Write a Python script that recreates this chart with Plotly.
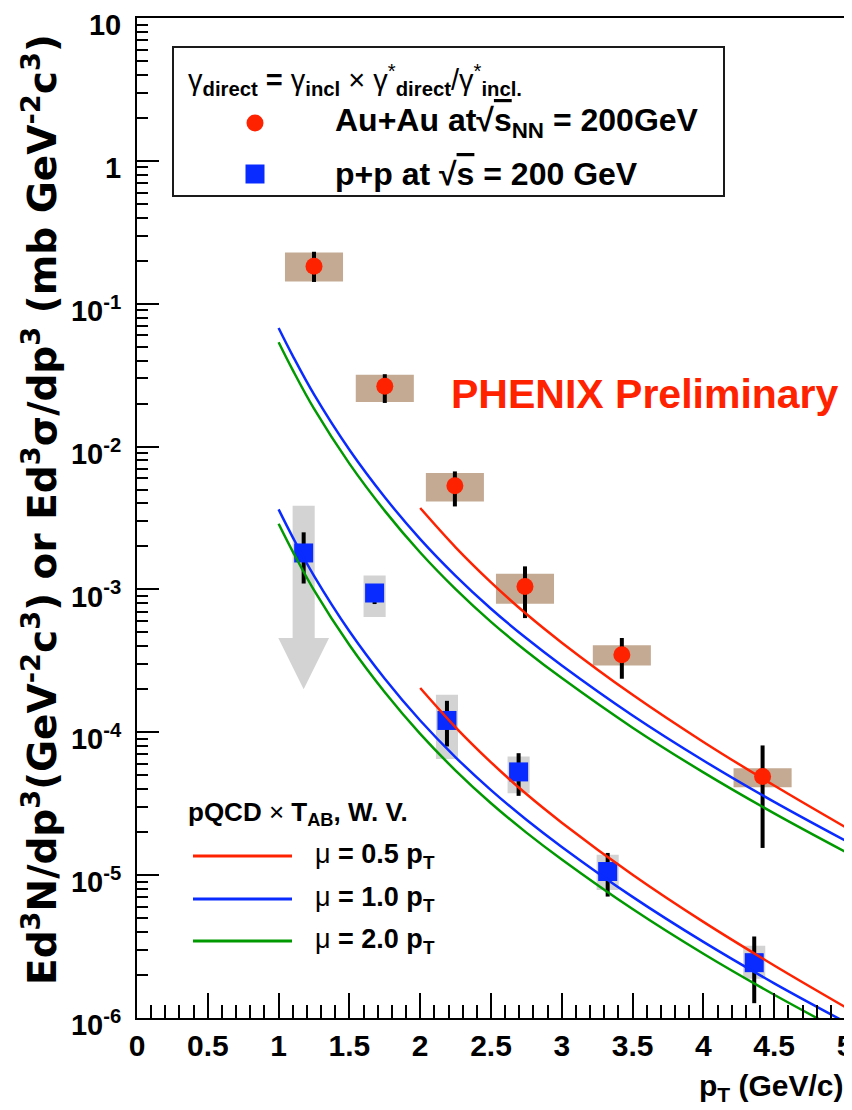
import plotly.graph_objects as go

# ---------------- data ----------------
# Au+Au direct photons (red circles)
auau_pt = [1.25, 1.75, 2.245, 2.74, 3.424, 4.418]
auau_y = [0.183, 0.0264, 0.00532, 0.00105, 0.000349, 4.91e-5]
auau_err_hi = [0.231, 0.0321, 0.0067, 0.00145, 0.000457, 8.09e-5]
auau_err_lo = [0.142, 0.0202, 0.00381, 0.00063, 0.000237, 1.55e-5]
auau_sys_hi = [0.228, 0.0318, 0.00653, 0.00129, 0.000406, 5.61e-5]
auau_sys_lo = [0.143, 0.0205, 0.00413, 0.000794, 0.000294, 4.13e-5]

# p+p direct photons (blue squares); first point carries an upper-limit arrow
pp_pt = [1.177, 1.678, 2.189, 2.695, 3.324, 4.359]
pp_y = [0.0018, 0.000944, 1.21e-4, 5.28e-5, 1.06e-5, 2.44e-6]
pp_err_hi = [0.00251, 0.00105, 1.66e-4, 7.14e-5, 1.43e-5, 3.72e-6]
pp_err_lo = [0.0011, 0.00079, 7.96e-5, 3.59e-5, 7.08e-6, 1.27e-6]
pp_sys_hi = [None, 0.00125, 1.83e-4, 6.78e-5, 1.39e-5, 3.21e-6]
pp_sys_lo = [None, 0.000641, 6.49e-5, 3.75e-5, 7.88e-6, 1.88e-6]
pp_limit_top = 0.00386
pp_limit_head = 0.000457
pp_limit_tip = 0.0002

# pQCD x T_AB curves (Au+Au)
curve_pt = [1.0, 1.1, 1.25, 1.5, 1.75, 2.0, 2.25, 2.5, 2.75, 3.0, 3.5, 4.0, 4.5, 5.0]
auau_mu10 = [0.0676, 0.04315, 0.02317, 0.009495, 0.004416, 0.002251, 0.001245, 0.0007328,
             0.0004545, 0.0002934, 0.0001311, 6.345e-5, 3.255e-5, 1.748e-5]
auau_mu20 = [0.0537, 0.03428, 0.01841, 0.007598, 0.003548, 0.001813, 0.001005, 0.0005929,
             0.0003694, 0.0002395, 0.0001077, 5.242e-5, 2.706e-5, 1.460e-5]
curve_pt_hi = [2.0, 2.25, 2.5, 2.75, 3.0, 3.5, 4.0, 4.5, 5.0]
auau_mu05 = [0.003715, 0.001972, 0.001122, 0.0006722, 0.0004241, 0.000183, 8.56e-5,
             4.24e-5, 2.175e-5]

# pQCD curves (p+p)
pp_mu10 = [3.631e-3, 2.317e-3, 1.245e-3, 5.098e-4, 2.371e-4, 1.209e-4, 6.683e-5, 3.936e-5,
           2.441e-5, 1.576e-5, 7.041e-6, 3.408e-6, 1.748e-6, 9.387e-7]
pp_mu20 = [2.884e-3, 1.841e-3, 9.886e-4, 4.078e-4, 1.905e-4, 9.739e-5, 5.395e-5, 3.184e-5,
           1.984e-5, 1.287e-5, 5.788e-6, 2.815e-6, 1.454e-6, 7.846e-7]
pp_mu05 = [2.042e-4, 1.084e-4, 6.166e-5, 3.694e-5, 2.331e-5, 1.006e-5, 4.705e-6, 2.331e-6,
           1.195e-6]

x_tickvals = [0, 0.5, 1, 1.5, 2, 2.5, 3, 3.5, 4, 4.5, 5]
x_ticktext = ["0", "0.5", "1", "1.5", "2", "2.5", "3", "3.5", "4", "4.5", "5"]
y_tickvals = [1e-6, 1e-5, 1e-4, 1e-3, 1e-2, 1e-1, 1, 10]
y_ticktext = ["10<sup>-6</sup>", "10<sup>-5</sup>", "10<sup>-4</sup>", "10<sup>-3</sup>",
              "10<sup>-2</sup>", "10<sup>-1</sup>", "1", "10"]

# ---------------- style ----------------
FONT = "Liberation Sans"
WIDE_FONT = "DejaVu Sans"
RED = "#ff2200"
BLUE = "#0a2bff"
GREEN = "#009a00"
TAN = "#c4aa93"
GRAY = "#d3d3d3"
AUAU_HW = 0.205
PP_HW = 0.078
ARROW_HEAD_HW = 0.179

# page body has an 8 px margin: screen = figure + 8
OFF = 8
W, H = 852, 1110
ML, MR, MT, MB = 129, 15, 10, 100
PW, PH = W - ML - MR, H - MT - MB


def px(X):  # screen pixel -> paper fraction
    return (X - OFF - ML) / PW


def py(Y):
    return 1 - (Y - OFF - MT) / PH


def boxes(xc, lo, hi, hw):
    xs, ys = [], []
    for x, l, h in zip(xc, lo, hi):
        if l is None:
            continue
        xs += [x - hw, x + hw, x + hw, x - hw, x - hw, None]
        ys += [l, l, h, h, l, None]
    return xs, ys


fig = go.Figure()

bx, by = boxes(auau_pt, auau_sys_lo, auau_sys_hi, AUAU_HW)
fig.add_trace(go.Scatter(x=bx, y=by, mode="lines", fill="toself", fillcolor=TAN,
                         line=dict(width=0), hoverinfo="skip", showlegend=False))
bx, by = boxes(pp_pt, pp_sys_lo, pp_sys_hi, PP_HW)
fig.add_trace(go.Scatter(x=bx, y=by, mode="lines", fill="toself", fillcolor=GRAY,
                         line=dict(width=0), hoverinfo="skip", showlegend=False))

# upper-limit arrow for the first p+p point
xa = pp_pt[0]
fig.add_trace(go.Scatter(
    x=[xa - PP_HW, xa + PP_HW, xa + PP_HW, xa + ARROW_HEAD_HW, xa, xa - ARROW_HEAD_HW,
       xa - PP_HW, xa - PP_HW],
    y=[pp_limit_top, pp_limit_top, pp_limit_head, pp_limit_head, pp_limit_tip,
       pp_limit_head, pp_limit_head, pp_limit_top],
    mode="lines", fill="toself", fillcolor=GRAY, line=dict(width=0),
    hoverinfo="skip", showlegend=False))

# statistical error bars
for xs, ys, hi, lo in [(auau_pt, auau_y, auau_err_hi, auau_err_lo),
                       (pp_pt, pp_y, pp_err_hi, pp_err_lo)]:
    fig.add_trace(go.Scatter(
        x=xs, y=ys, mode="markers", marker=dict(size=1, color="rgba(0,0,0,0)"),
        error_y=dict(type="data", symmetric=False,
                     array=[h - v for h, v in zip(hi, ys)],
                     arrayminus=[v - l for l, v in zip(lo, ys)],
                     color="black", thickness=4, width=0),
        showlegend=False, hoverinfo="skip"))

fig.add_trace(go.Scatter(x=auau_pt, y=auau_y, mode="markers",
                         marker=dict(symbol="circle", size=17, color=RED, line=dict(width=0)),
                         showlegend=False))
fig.add_trace(go.Scatter(x=pp_pt, y=pp_y, mode="markers",
                         marker=dict(symbol="square", size=19, color=BLUE, line=dict(width=0)),
                         showlegend=False))

# curves
for xs, ys, c in [(curve_pt, auau_mu20, GREEN), (curve_pt, auau_mu10, BLUE),
                  (curve_pt_hi, auau_mu05, RED), (curve_pt, pp_mu20, GREEN),
                  (curve_pt, pp_mu10, BLUE), (curve_pt_hi, pp_mu05, RED)]:
    fig.add_trace(go.Scatter(x=xs, y=ys, mode="lines",
                             line=dict(color=c, width=2.5, shape="spline", smoothing=1.0),
                             showlegend=False, hoverinfo="skip"))

# ---------- legend drawn on an overlay axis (paper-like coords) ----------
fig.add_trace(go.Scatter(x=[px(255)], y=[py(123)], xaxis="x2", yaxis="y2", mode="markers",
                         marker=dict(symbol="circle", size=17, color=RED), showlegend=False,
                         cliponaxis=False, hoverinfo="skip"))
fig.add_trace(go.Scatter(x=[px(255)], y=[py(174)], xaxis="x2", yaxis="y2", mode="markers",
                         marker=dict(symbol="square", size=19, color=BLUE), showlegend=False,
                         cliponaxis=False, hoverinfo="skip"))
for Y, c in [(856, RED), (899, BLUE), (941, GREEN)]:
    fig.add_trace(go.Scatter(x=[px(193), px(292)], y=[py(Y), py(Y)], xaxis="x2", yaxis="y2",
                             mode="lines", line=dict(color=c, width=3), showlegend=False,
                             cliponaxis=False, hoverinfo="skip"))

fig.add_shape(type="rect", xref="paper", yref="paper", x0=px(173), x1=px(724),
              y0=py(196), y1=py(47), line=dict(color="#1a1a1a", width=2),
              fillcolor="white", layer="below")

ann = []


def add_text(text, X, Y, size, anchor="left", color="black", angle=0, family=FONT):
    ann.append(dict(text=text, x=px(X), y=py(Y), xref="paper", yref="paper",
                    xanchor=anchor, yanchor="middle", showarrow=False, textangle=angle,
                    font=dict(family=family, size=size, color=color)))


add_text("γ<sub><b>direct</b></sub><b> = </b>γ<sub><b>incl</b></sub> × "
         "γ<sup>*</sup><sub><b>direct</b></sub>/γ<sup>*</sup><sub><b>incl.</b></sub>",
         186, 80, 29)
add_text("<b>Au+Au at√<span style='text-decoration:overline'>s</span><sub>NN</sub> = 200GeV</b>",
         333, 123, 32)
add_text("<b>p+p at √<span style='text-decoration:overline'>s</span> = 200 GeV</b>",
         333, 174, 32)
add_text("<b>PHENIX Preliminary</b>", 449, 394, 41, color=RED)
add_text("<b>pQCD </b>×<b> T<sub>AB</sub>, W. V.</b>", 186, 813, 26)
add_text("μ<b> = 0.5 p<sub>T</sub></b>", 313, 856, 27)
add_text("μ<b> = 1.0 p<sub>T</sub></b>", 313, 899, 27)
add_text("μ<b> = 2.0 p<sub>T</sub></b>", 313, 941, 27)
add_text("<b>p<sub>T</sub> (GeV/c)</b>", 846, 1087, 30, anchor="right")
add_text("<b>Ed<sup>3</sup>N/dp<sup>3</sup>(GeV<sup>-2</sup>c<sup>3</sup>) or "
         "Ed<sup>3</sup>σ/dp<sup>3</sup> (mb GeV<sup>-2</sup>c<sup>3</sup>)</b>",
         40, 510, 39, anchor="center", angle=-90, family=WIDE_FONT)

minor_y = [m * 10.0 ** e for e in range(-6, 1) for m in range(2, 10)]

fig.update_layout(
    width=W, height=H, margin=dict(l=ML, r=MR, t=MT, b=MB, autoexpand=False),
    paper_bgcolor="white", plot_bgcolor="white", showlegend=False,
    font=dict(family=FONT, color="black"),
    annotations=ann,
    xaxis=dict(range=[0, 5], showgrid=False, zeroline=False, showline=True, linecolor="black",
               linewidth=2, mirror=True, ticks="inside", ticklen=25, tickwidth=2,
               tickcolor="black", tickmode="array", tickvals=x_tickvals, ticktext=x_ticktext,
               tickfont=dict(family=FONT, size=30, weight="bold"), ticklabeloverflow="allow",
               minor=dict(ticks="inside", ticklen=13, tickwidth=2, tickcolor="black",
                          dtick=0.1, tick0=0, showgrid=False)),
    yaxis=dict(type="log", range=[-6, 1], showgrid=False, zeroline=False, showline=True,
               linecolor="black", linewidth=2, mirror=True, ticks="inside", ticklen=22,
               tickwidth=2, tickcolor="black", tickmode="array", tickvals=y_tickvals,
               ticktext=y_ticktext, tickfont=dict(family=FONT, size=29, weight="bold"),
               ticklabelstandoff=8, ticklabelshift=7, ticklabeloverflow="allow",
               minor=dict(ticks="inside", ticklen=11, tickwidth=2, tickcolor="black",
                          tickmode="array", tickvals=minor_y, showgrid=False)),
    xaxis2=dict(overlaying="x", range=[0, 1], visible=False, anchor="y2"),
    yaxis2=dict(overlaying="y", range=[0, 1], visible=False, anchor="x2"),
)

fig.write_html("out.html")
